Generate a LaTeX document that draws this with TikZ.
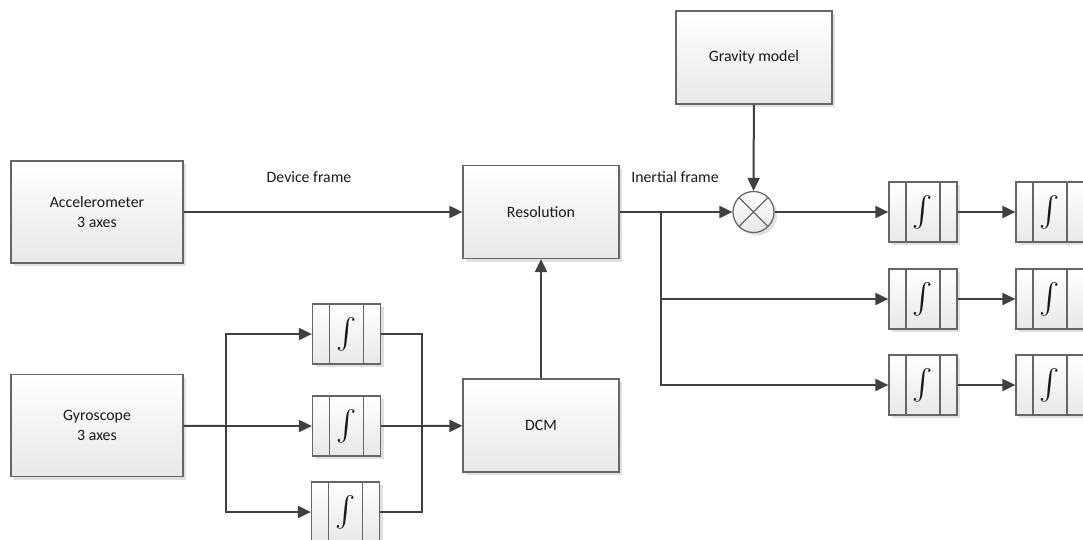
\documentclass[tikz,border=0pt]{standalone}
\usepackage{amsmath}
\usepackage{fontspec}
\setmainfont{Carlito}
\usetikzlibrary{
	arrows.meta,
	positioning,
	calc,
	shadows,
}
\newcommand{\intglyph}{\fontsize{16}{16}\selectfont$\int$}
\tikzset{block/.style={
		% The shape:
		rectangle,
		% The size:
		minimum width=31.2mm,minimum height=18.6mm,
		% The border:
		draw=black!60,line width=0.25mm,
		% The filling:
		top color=white, % white at the top...
		bottom color=black!9, % and light grey at the bottom
		drop shadow={shadow xshift=0.6mm,shadow yshift=-0.6mm,fill=black!12,opacity=1},
		% two-line texts
		align=center,
}}
\tikzset{sensor/.style={
		block,
		minimum width=34.4mm,minimum height=20.4mm,
}}
\tikzset{integrator/.style={
		block,
		minimum width=13.6mm,minimum height=12mm,inner sep=0pt,
		% the two side strips
		path picture={
			\draw [black!60,line width=0.25mm]
			([xshift=3.4mm]path picture bounding box.north west) -- ([xshift=3.4mm]path picture bounding box.south west)
			([xshift=-3.4mm]path picture bounding box.north east) -- ([xshift=-3.4mm]path picture bounding box.south east);
		},
}}
\tikzset{junction/.style={
		circle,minimum size=8.2mm,inner sep=0pt,
		draw=black!60,line width=0.25mm,
		top color=white,bottom color=black!9,
		drop shadow={shadow xshift=0.6mm,shadow yshift=-0.6mm,fill=black!12,opacity=1},
		% the cross
		path picture={
			\draw [black!60,line width=0.25mm]
			(path picture bounding box.north west) -- (path picture bounding box.south east)
			(path picture bounding box.north east) -- (path picture bounding box.south west);
		},
}}

\begin{document}
\begin{tikzpicture}[x=0.2mm,y=-0.2mm,>={Triangle[length=2.6mm,width=2.4mm]},
	line width=0.4mm,black!75,text=black!90,font=\fontsize{9}{11}\selectfont]
	\useasboundingbox (0,0) rectangle (1083,539);
	% sensors and main blocks
	\node [sensor] (accel) at (97,212) {Accelerometer\\3 axes};
	\node [sensor] (gyro) at (97,425.5) {Gyroscope\\3 axes};
	\node [block] (resol) at (541,212) {Resolution};
	\node [block] (dcm) at (541,425.5) {DCM};
	\node [block] (gravity) at (754,57.5) {Gravity model};
	\node [junction] (sum) at (753.5,212) {};
	\node (devframe) at (309,177) {Device frame};
	\node (inframe) at (675,177) {Inertial frame};
	% gyro integrators
	\node [integrator] (gint1) at (346.5,334) {\intglyph};
	\node [integrator] (gint2) at (346.5,426) {\intglyph};
	\node [integrator] (gint3) at (345.5,512) {\intglyph};
	\coordinate (gsplit) at (226,426);
	\coordinate (gmerge) at (422,426);
	\coordinate (rsplit) at (661,212);
	% velocity and position integrators
	\foreach \i/\y in {1/212,2/299,3/385} {
		\node [integrator] (vel\i) at (923,\y) {\intglyph};
		\node [integrator] (pos\i) at (1050,\y) {\intglyph};
		\draw [->] (vel\i) -- (pos\i);
	}
	%
	\draw [->] (accel) -- (resol);
	\draw (gyro) -- (gsplit);
	\draw [->] (gsplit) -- (gint2);
	\draw [->] (gsplit) |- (gint1);
	\draw [->] (gsplit) |- (gint3);
	\draw (gint1) -| (gmerge);
	\draw (gint3) -| (gmerge);
	\draw (gint2) -- (gmerge);
	\draw [->] (gmerge) -- (dcm);
	\draw [->] (dcm) -- (resol);
	\draw (resol) -- (rsplit);
	\draw [->] (rsplit) -- (sum);
	\draw [->] (rsplit) |- (vel2);
	\draw [->] (rsplit) |- (vel3);
	\draw [->] (gravity) -- (sum);
	\draw [->] (sum) -- (vel1);
\end{tikzpicture}
\end{document}
